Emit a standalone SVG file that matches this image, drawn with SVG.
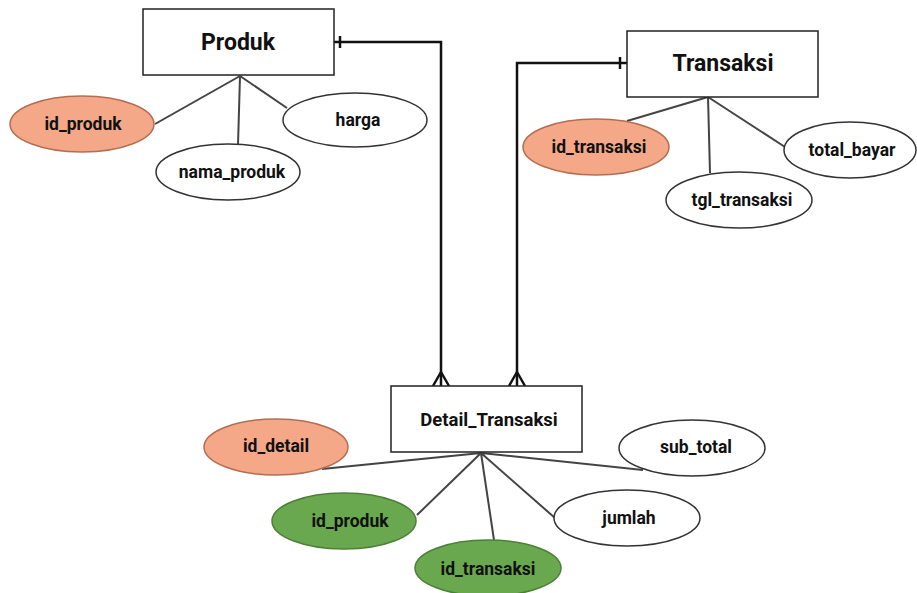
<svg xmlns="http://www.w3.org/2000/svg" width="917" height="593" viewBox="0 0 917 593">
<style>
.ent{fill:#fff;stroke:#222;stroke-width:1.5}
.attr{fill:#fff;stroke:#333;stroke-width:1.5}
.pk{fill:#F4A888;stroke:#B36E52;stroke-width:1.5}
.fk{fill:#6AA84F;stroke:#4C7F37;stroke-width:1.5}
.t{font-family:Roboto,"Liberation Sans",sans-serif;fill:#111;text-anchor:middle;dominant-baseline:central}
.h{font-size:23px;font-weight:700}
.d{font-size:18.5px;font-weight:700}
.a{font-size:17.5px;font-weight:700}
.al{stroke:#444;stroke-width:2;fill:none}
.rel{stroke:#111;stroke-width:2.5;fill:none}
</style>
<rect width="917" height="593" fill="#fff"/>
<g id="connectors">
<path class="al" d="M240 76 L155 124 M240 76 L238 145 M240 76 L287 108"/>
<path class="al" d="M708 97 L627 121 M708 97 L710 173 M708 97 L785 147"/>
<path class="al" d="M481 453 L322 469 M481 453 L417 515 M481 453 L494 540 M481 453 L555 518 M481 453 L643 470"/>
<path class="rel" d="M334 42 H441 V386"/>
<path class="rel" d="M340 36 V48"/>
<path class="rel" d="M441 372 L433 386 M441 372 L449 386"/>
<path class="rel" d="M627 63 H517 V386"/>
<path class="rel" d="M620 57 V69"/>
<path class="rel" d="M517 372 L509 386 M517 372 L525 386"/>
</g>
<g id="produk"><rect class="ent" x="143" y="9" width="191" height="66"/><text class="t h" x="238" y="42">Produk</text></g>
<g id="transaksi"><rect class="ent" x="627" y="31" width="191" height="66"/><text class="t h" x="723" y="63">Transaksi</text></g>
<g id="detail_transaksi"><rect class="ent" x="391" y="386" width="191" height="66"/><text class="t d" x="489" y="420">Detail_Transaksi</text></g>
<g id="p_id_produk"><ellipse class="pk" cx="82" cy="124" rx="72" ry="28"/><text class="t a" x="83" y="124">id_produk</text></g>
<g id="p_nama_produk"><ellipse class="attr" cx="228" cy="172" rx="72" ry="28"/><text class="t a" x="232" y="172">nama_produk</text></g>
<g id="p_harga"><ellipse class="attr" cx="355" cy="120" rx="72" ry="27"/><text class="t a" x="358" y="120">harga</text></g>
<g id="t_id_transaksi"><ellipse class="pk" cx="596" cy="147" rx="73" ry="28"/><text class="t a" x="599" y="147">id_transaksi</text></g>
<g id="t_tgl_transaksi"><ellipse class="attr" cx="739" cy="200" rx="73" ry="28"/><text class="t a" x="742" y="200">tgl_transaksi</text></g>
<g id="t_total_bayar"><ellipse class="attr" cx="850" cy="150" rx="66" ry="28"/><text class="t a" x="852" y="150">total_bayar</text></g>
<g id="d_id_detail"><ellipse class="pk" cx="276" cy="447" rx="72" ry="28"/><text class="t a" x="276" y="446">id_detail</text></g>
<g id="d_id_produk"><ellipse class="fk" cx="344" cy="521" rx="72" ry="28"/><text class="t a" x="350" y="521">id_produk</text></g>
<g id="d_id_transaksi"><ellipse class="fk" cx="488" cy="568" rx="73" ry="28"/><text class="t a" x="488" y="569">id_transaksi</text></g>
<g id="d_jumlah"><ellipse class="attr" cx="627" cy="518" rx="73" ry="28"/><text class="t a" x="629" y="518">jumlah</text></g>
<g id="d_sub_total"><ellipse class="attr" cx="692" cy="448" rx="73" ry="28"/><text class="t a" x="696" y="447">sub_total</text></g>
</svg>
